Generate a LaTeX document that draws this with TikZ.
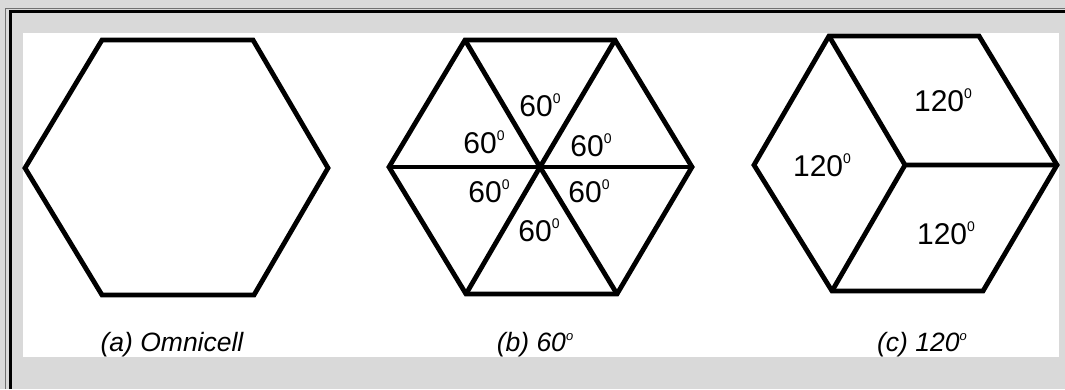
\documentclass[tikz,border=0pt]{standalone}
\usepackage{fontspec}
\setmainfont{Liberation Sans}
\definecolor{bggray}{HTML}{D9D9D9}
\definecolor{framegray}{HTML}{707070}
\newcommand{\degsup}{\raisebox{13pt}{\fontsize{14}{14}\selectfont 0}}
\newcommand{\capsup}{\raisebox{11pt}{\fontsize{13}{13}\selectfont o}}
\tikzset{
  cell/.style={line width=4.8pt, line join=miter, line cap=butt, draw=black},
  angle/.style={font=\fontsize{30}{32}\selectfont, inner sep=0pt},
  caption/.style={font=\fontsize{26.5}{30}\selectfont\itshape, inner sep=0pt},
}
\begin{document}
\begin{tikzpicture}[x=1pt,y=-1pt]
\useasboundingbox (0,0) rectangle (1065,389);
\fill[bggray] (0,0) rectangle (1065,389);
% frame
\draw[framegray, line width=1pt] (5.5,389) -- (5.5,8) -- (1065,8);
\draw[black, line width=3pt] (10,389) -- (10,11) -- (1065,11);
\fill[white] (23,33) rectangle (1059,357);

% (a) omnicell
\coordinate (a1) at (102,40);
\coordinate (a2) at (253,40);
\coordinate (a3) at (328,168);
\coordinate (a4) at (254,295);
\coordinate (a5) at (102,295);
\coordinate (a6) at (25,168);
\draw[cell] (a1) -- (a2) -- (a3) -- (a4) -- (a5) -- (a6) -- cycle;

% (b) 60 degree
\coordinate (b1) at (465,40);
\coordinate (b2) at (615,40);
\coordinate (b3) at (692,167);
\coordinate (b4) at (617,294);
\coordinate (b5) at (466,294);
\coordinate (b6) at (389,167);
\coordinate (bc) at (540,167);
\draw[cell] (b1) -- (b2) -- (b3) -- (b4) -- (b5) -- (b6) -- cycle;
\draw[cell] (b1) -- (bc) -- (b4);
\draw[cell] (b2) -- (bc) -- (b5);
\draw[cell] (b6) -- (bc) -- (b3);

% (c) 120 degree
\coordinate (c1) at (829,36);
\coordinate (c2) at (979,36);
\coordinate (c3) at (1057,165);
\coordinate (c4) at (983,291);
\coordinate (c5) at (832,291);
\coordinate (c6) at (754,165);
\coordinate (cc) at (905,165);
\draw[cell] (c1) -- (c2) -- (c3) -- (c4) -- (c5) -- (c6) -- cycle;
\draw[cell] (c1) -- (cc) -- (c3);
\draw[cell] (cc) -- (c5);

% angle labels (b)
\node[angle] (bl1) at (540,105) {60\degsup};
\node[angle] (bl2) at (484,142) {60\degsup};
\node[angle] (bl3) at (591,145) {60\degsup};
\node[angle] (bl4) at (489,191) {60\degsup};
\node[angle] (bl5) at (589,191) {60\degsup};
\node[angle] (bl6) at (539,230) {60\degsup};

% angle labels (c)
\node[angle] (cl1) at (943,100) {120\degsup};
\node[angle] (cl2) at (822,165) {120\degsup};
\node[angle] (cl3) at (946,233) {120\degsup};

% captions
\node[caption] (capa) at (172,345) {(a) Omnicell};
\node[caption] (capb) at (535,345) {(b) 60\capsup};
\node[caption] (capc) at (922,345) {(c) 120\capsup};
\end{tikzpicture}
\end{document}
